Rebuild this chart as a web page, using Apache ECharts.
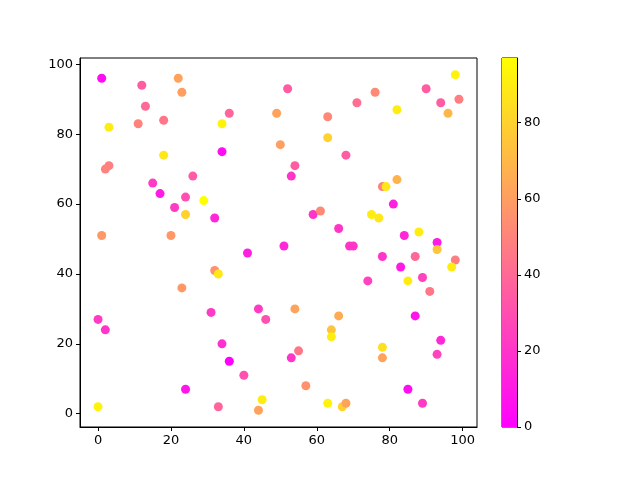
<!DOCTYPE html>
<html>
<head>
<meta charset="utf-8">
<script src="https://cdn.jsdelivr.net/npm/echarts@6/dist/echarts.min.js"></script>
<style>html,body{margin:0;padding:0;background:#fff}#c{width:640px;height:480px}</style>
</head>
<body>
<div id="c"></div>
<script>
const xs = [1,12,22,23,3,11,13,18,18,3,2,26,15,17,24,21,24,29,32,1,20,23,52,36,34,49,63,63,34,50,54,53,98,90,76,71,94,99,96,82,68,82,78,79,59,61,66,41,51,32,33,81,75,77,84,88,69,70,93,93,78,87,98,97,83,89,74,85,91,0,2,24,0,31,44,46,54,66,64,64,34,36,55,53,40,57,45,44,33,63,87,94,93,78,78,85,89,67,68];
const ys = [96,94,96,92,82,83,88,84,74,71,70,68,66,63,62,59,57,61,56,51,51,36,93,86,83,86,85,79,75,77,71,68,97,93,92,89,89,90,86,87,74,67,65,65,57,58,53,46,48,41,40,60,57,56,51,52,48,48,49,47,45,45,44,42,42,39,38,38,35,27,24,7,2,29,30,27,30,28,24,22,20,15,18,16,11,8,4,1,2,3,28,21,17,19,16,7,3,2,3];
const cs = [5,35,62,60,90,50,40,45,88,48,50,35,22,10,30,22,80,97,15,58,58,58,35,38,92,62,52,80,5,60,35,20,92,35,52,42,35,48,70,90,35,68,50,88,20,52,20,12,15,55,88,12,90,88,15,90,20,20,10,75,20,40,48,90,10,25,25,90,45,22,20,8,92,22,22,30,62,65,75,90,18,0,45,20,30,55,90,62,38,92,8,15,25,85,62,5,22,80,62];
const xTicks = [0,20,40,60,80,100];
const yTicks = [0,20,40,60,80,100];
const cbTicks = [0,20,40,60,80];

const cMin = Math.min(...cs), cMax = Math.max(...cs);
const pts = xs.map((x,i)=>[x, ys[i], cs[i]]);
const xMin = Math.min(...xs), xMax = Math.max(...xs);
const yMin = Math.min(...ys), yMax = Math.max(...ys);
const xPad = (xMax-xMin)*0.05, yPad = (yMax-yMin)*0.05;

const font = 'DejaVu Sans';
const lbl = {color:'#000', fontSize:13, fontFamily:font, margin:7};
const tick = {show:true, length:4, lineStyle:{color:'#000', width:1}};
const line = {show:true, onZero:false, lineStyle:{color:'#000', width:1}};

const chart = echarts.init(document.getElementById('c'), null, {renderer:'canvas'});
chart.setOption({
  animation:false,
  backgroundColor:'#fff',
  grid:[
    {left:80, top:58, width:397, height:369, show:true, borderColor:'#000', borderWidth:1, backgroundColor:'transparent'},
    {left:502, top:58, width:15, height:369, show:true, borderColor:'#000', borderWidth:1, backgroundColor:'transparent'}
  ],
  xAxis:[
    {type:'value', gridIndex:0, min:xMin-xPad, max:xMax+xPad, splitLine:{show:false}, axisLine:line,
     axisTick:Object.assign({customValues:xTicks}, tick), axisLabel:Object.assign({customValues:xTicks}, lbl)},
    {type:'category', gridIndex:1, data:['cb'], show:false}
  ],
  yAxis:[
    {type:'value', gridIndex:0, min:yMin-yPad, max:yMax+yPad, splitLine:{show:false}, axisLine:line,
     axisTick:Object.assign({customValues:yTicks}, tick), axisLabel:Object.assign({customValues:yTicks}, lbl)},
    {type:'value', gridIndex:1, position:'right', min:cMin, max:cMax, splitLine:{show:false}, axisLine:line,
     axisTick:Object.assign({customValues:cbTicks}, tick), axisLabel:Object.assign({customValues:cbTicks}, lbl)}
  ],
  visualMap:{show:false, type:'continuous', dimension:2, min:cMin, max:cMax, seriesIndex:0,
    inRange:{color:['#ff00ff','#ffff00']}},
  series:[
    {type:'scatter', xAxisIndex:0, yAxisIndex:0, data:pts, symbolSize:9, itemStyle:{opacity:1}},
    {type:'bar', xAxisIndex:1, yAxisIndex:1, data:[cMax], barWidth:'100%', silent:true,
     itemStyle:{color:new echarts.graphic.LinearGradient(0,0,0,1,[{offset:0,color:'#ffff00'},{offset:1,color:'#ff00ff'}])}}
  ]
});
</script>
</body>
</html>
